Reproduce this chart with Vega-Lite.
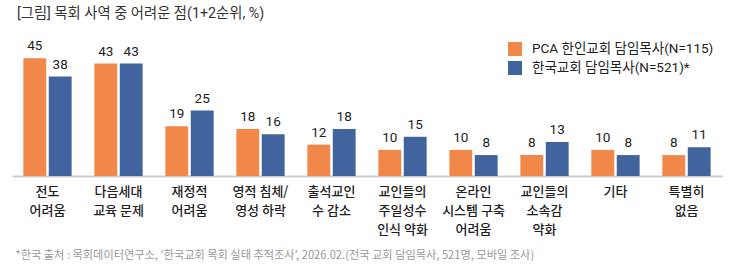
{
  "$schema": "https://vega.github.io/schema/vega-lite/v6.json",
  "autosize": "none",
  "width": 710,
  "height": 136,
  "padding": {"left": 12, "top": 40, "right": 13, "bottom": 102},
  "background": "white",
  "config": {
    "font": "Noto Sans CJK KR",
    "view": {"stroke": null}
  },
  "title": {
    "text": "[그림] 목회 사역 중 어려운 점(1+2순위, %)",
    "anchor": "start",
    "frame": "group",
    "dx": 5,
    "offset": 18,
    "fontSize": 14.3,
    "fontWeight": "normal",
    "color": "#333333",
    "font": "Roboto, Noto Sans CJK KR"
  },
  "data": {
    "values": [
      {"cat": "전도|어려움", "series": "PCA 한인교회 담임목사(N=115)", "value": 45},
      {"cat": "전도|어려움", "series": "한국교회 담임목사(N=521)*", "value": 38},
      {"cat": "다음세대|교육 문제", "series": "PCA 한인교회 담임목사(N=115)", "value": 43},
      {"cat": "다음세대|교육 문제", "series": "한국교회 담임목사(N=521)*", "value": 43},
      {"cat": "재정적|어려움", "series": "PCA 한인교회 담임목사(N=115)", "value": 19},
      {"cat": "재정적|어려움", "series": "한국교회 담임목사(N=521)*", "value": 25},
      {"cat": "영적 침체/|영성 하락", "series": "PCA 한인교회 담임목사(N=115)", "value": 18},
      {"cat": "영적 침체/|영성 하락", "series": "한국교회 담임목사(N=521)*", "value": 16},
      {"cat": "출석교인|수 감소", "series": "PCA 한인교회 담임목사(N=115)", "value": 12},
      {"cat": "출석교인|수 감소", "series": "한국교회 담임목사(N=521)*", "value": 18},
      {"cat": "교인들의|주일성수|인식 약화", "series": "PCA 한인교회 담임목사(N=115)", "value": 10},
      {"cat": "교인들의|주일성수|인식 약화", "series": "한국교회 담임목사(N=521)*", "value": 15},
      {"cat": "온라인|시스템 구축|어려움", "series": "PCA 한인교회 담임목사(N=115)", "value": 10},
      {"cat": "온라인|시스템 구축|어려움", "series": "한국교회 담임목사(N=521)*", "value": 8},
      {"cat": "교인들의|소속감|약화", "series": "PCA 한인교회 담임목사(N=115)", "value": 8},
      {"cat": "교인들의|소속감|약화", "series": "한국교회 담임목사(N=521)*", "value": 13},
      {"cat": "기타", "series": "PCA 한인교회 담임목사(N=115)", "value": 10},
      {"cat": "기타", "series": "한국교회 담임목사(N=521)*", "value": 8},
      {"cat": "특별히|없음", "series": "PCA 한인교회 담임목사(N=115)", "value": 8},
      {"cat": "특별히|없음", "series": "한국교회 담임목사(N=521)*", "value": 11}
    ]
  },
  "encoding": {
    "x": {
      "field": "cat",
      "type": "nominal",
      "sort": null,
      "scale": {"paddingInner": 0.32, "paddingOuter": 0.16},
      "axis": {
        "title": "*한국 출처 : 목회데이터연구소, ‘한국교회 목회 실태 추적조사’, 2026.02.(전국 교회 담임목사, 521명, 모바일 조사)",
        "titleAnchor": "start",
        "titleAlign": "left",
        "titleBaseline": "middle",
        "titleX": 3,
        "titleY": 79,
        "titleFontSize": 11.2,
        "titleFontWeight": "normal",
        "titleColor": "#999999",
        "labelExpr": "split(datum.label, '|')",
        "labelAngle": 0,
        "labelFontSize": 13,
        "labelFontWeight": 500,
        "labelColor": "#222222",
        "labelLineHeight": 19,
        "labelPadding": 9,
        "labelBaseline": "top",
        "ticks": false,
        "domainColor": "#cccccc",
        "domainWidth": 2
      }
    },
    "xOffset": {
      "field": "series",
      "type": "nominal",
      "sort": null,
      "scale": {"paddingInner": 0.1}
    },
    "y": {
      "field": "value",
      "type": "quantitative",
      "scale": {"domain": [0, 52]},
      "axis": null
    }
  },
  "layer": [
    {
      "mark": {"type": "bar"},
      "encoding": {
        "color": {
          "field": "series",
          "type": "nominal",
          "sort": null,
          "scale": {"range": ["#F1884A", "#41639E"]},
          "legend": {
            "title": null,
            "orient": "none",
            "legendX": 496,
            "legendY": 2,
            "symbolType": "square",
            "symbolSize": 196,
            "symbolStrokeWidth": 0,
            "labelFontSize": 13.5,
            "labelColor": "#222222",
            "labelFont": "Roboto, Noto Sans CJK KR",
            "labelLimit": 300,
            "rowPadding": 5,
            "labelOffset": 10
          }
        }
      }
    },
    {
      "mark": {"type": "text", "baseline": "bottom", "dy": -5, "fontSize": 13.5, "fontWeight": "normal", "font": "Roboto, Noto Sans CJK KR", "color": "#222222"},
      "encoding": {
        "text": {"field": "value", "type": "quantitative"}
      }
    }
  ]
}
